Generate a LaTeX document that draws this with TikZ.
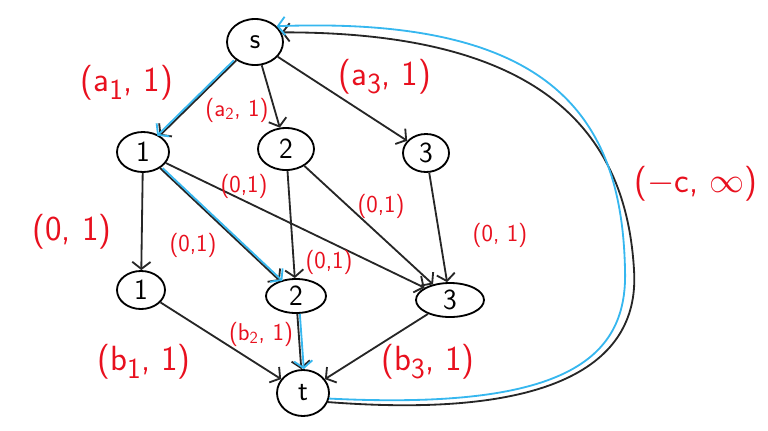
\documentclass[tikz,border=0pt]{standalone}
\usepackage{tikz}
\usetikzlibrary{arrows.meta,shapes.geometric}
\definecolor{penred}{HTML}{E8101E}
\definecolor{penblue}{HTML}{36B7EF}

\begin{document}
\begin{tikzpicture}[
    x=0.025cm, y=-0.025cm,
    vertex/.style={ellipse, draw, line width=1.3pt, inner sep=0pt, font=\huge\sffamily},
    flow/.style={-{Straight Barb[length=5pt,width=13pt]}, line width=1.3pt, black!85},
    hilite/.style={flow, penblue},
    cost/.style={text=penred, font=\LARGE\sffamily},
    bigcost/.style={text=penred, font=\Huge\sffamily},
]
    \useasboundingbox (0,0) rectangle (768,430);

    % Vertices
    \node[vertex, minimum width=1.4cm, minimum height=1.15cm] (s) at (255, 42) {s};
    \node[vertex, minimum width=1.3cm, minimum height=1.0cm] (a1) at (143, 152) {1};
    \node[vertex, minimum width=1.4cm, minimum height=1.05cm] (a2) at (286, 149) {2};
    \node[vertex, minimum width=1.15cm, minimum height=0.95cm] (a3) at (426, 153) {3};
    \node[vertex, minimum width=1.2cm, minimum height=0.95cm] (b1) at (141, 290) {1};
    \node[vertex, minimum width=1.5cm, minimum height=0.85cm] (b2) at (296, 296) {2};
    \node[vertex, minimum width=1.7cm, minimum height=0.85cm] (b3) at (450, 300) {3};
    \node[vertex, minimum width=1.3cm, minimum height=1.15cm] (t) at (303, 393) {t};

    % Source edges
    \draw[flow] (s) -- (a1);
    \draw[flow] (s) -- (a2);
    \draw[flow] (s) -- (a3);

    % Middle edges
    \draw[flow] (a1) -- (b1);
    \draw[flow] (a1) -- (b2);
    \draw[flow] (a1) -- (b3);
    \draw[flow] (a2) -- (b2);
    \draw[flow] (a2) -- (b3);
    \draw[flow] (a3) -- (b3);

    % Sink edges
    \draw[flow] (b1) -- (t);
    \draw[flow] (b2) -- (t);
    \draw[flow] (b3) -- (t);

    % Return edge
    \draw[flow] (t.-20) .. controls (560,420) and (640,360) .. (634,270)
        .. controls (626,130) and (540,32) .. (s.20);

    % Highlighted cycle
    \draw[hilite, transform canvas={xshift=-1.8pt}] (s) -- (a1);
    \draw[hilite, transform canvas={xshift=1.8pt}] (a1) -- (b2);
    \draw[hilite, transform canvas={xshift=1.8pt}] (b2) -- (t);
    \draw[hilite] (t.-12) .. controls (560,410) and (628,362) .. (625,270)
        .. controls (622,115) and (550,16) .. (s.36);

    % Costs and capacities
    \node[bigcost] (la1) at (127, 83) {(a\textsubscript{1}, 1)};
    \node[cost] (la2) at (237, 110) {(a\textsubscript{2}, 1)};
    \node[bigcost] (la3) at (385, 77) {(a\textsubscript{3}, 1)};
    \node[bigcost] (l11) at (72, 232) {(0, 1)};
    \node[cost] (l12) at (193, 245) {(0,1)};
    \node[cost] (l13) at (244, 186) {(0,1)};
    \node[cost] (l22) at (329, 262) {(0,1)};
    \node[cost] (l23) at (381, 206) {(0,1)};
    \node[cost] (l33) at (500, 235) {(0, 1)};
    \node[bigcost] (lb1) at (144, 362) {(b\textsubscript{1}, 1)};
    \node[cost] (lb2) at (261, 334) {(b\textsubscript{2}, 1)};
    \node[bigcost] (lb3) at (428, 362) {(b\textsubscript{3}, 1)};
    \node[bigcost] (lts) at (696, 184) {($-$c, $\infty$)};
\end{tikzpicture}
\end{document}
